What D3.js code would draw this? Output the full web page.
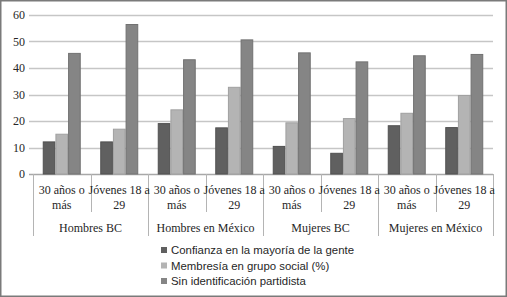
<!DOCTYPE html>
<html>
<head>
<meta charset="utf-8">
<script src="https://cdn.jsdelivr.net/npm/d3@7"></script>
<style>
  body { margin: 0; background: #fff; }
  svg { display: block; }
</style>
</head>
<body>
<svg id="chart" width="507" height="297"></svg>
<script>
// values
const groups = ["Hombres BC", "Hombres en México", "Mujeres BC", "Mujeres en México"];
const subLabels = [["30 años o", "más"], ["Jóvenes 18 a", "29"]];
const seriesNames = [
  "Confianza en la mayoría de la gente",
  "Membresía en grupo social (%)",
  "Sin identificación partidista"
];
const confianza = [12.3, 12.3, 19.2, 17.6, 10.6, 8.0, 18.4, 17.7];
const membresia = [15.2, 17.1, 24.4, 32.9, 19.5, 21.1, 23.1, 29.8];
const sinIdentificacion = [45.7, 56.6, 43.3, 50.8, 45.9, 42.5, 44.8, 45.3];
const yTicks = [0, 10, 20, 30, 40, 50, 60];

const colors = ["#606060", "#b4b4b4", "#858585"];
const strokes = ["#505050", "#a0a0a0", "#727272"];

const svg = d3.select("#chart");
const W = 507, H = 297;
const margin = { left: 33, right: 14, top: 15, bottom: 123 };
const serifFont = "'Liberation Serif', 'DejaVu Serif', serif";
const sansFont = "'Liberation Sans', Arial, sans-serif";
const textColor = "#262626";

// outer frame
svg.append("rect")
  .attr("x", 0.75).attr("y", 0.75)
  .attr("width", W - 1.5).attr("height", H - 1.5)
  .attr("fill", "#fff")
  .attr("stroke", "#7a7a7a")
  .attr("stroke-width", 1.5);

const cats = d3.range(groups.length * subLabels.length);
const data = cats.map(i => ({
  i,
  values: [confianza[i], membresia[i], sinIdentificacion[i]]
}));

const x0 = d3.scaleBand()
  .domain(cats)
  .range([margin.left, W - margin.right]);

const x1 = d3.scaleBand()
  .domain(d3.range(seriesNames.length))
  .range([0, x0.bandwidth()])
  .paddingInner(0)
  .paddingOuter(0.77);

const y = d3.scaleLinear()
  .domain([0, 60])
  .range([H - margin.bottom, margin.top]);

// gridlines
svg.append("g")
  .selectAll("line")
  .data(yTicks)
  .join("line")
    .attr("x1", margin.left - 4)
    .attr("x2", W - margin.right)
    .attr("y1", d => Math.round(y(d)) + 0.5)
    .attr("y2", d => Math.round(y(d)) + 0.5)
    .attr("stroke", d => d === 0 ? "#a8a8a8" : "#c6c6c6")
    .attr("stroke-width", 1.3);

// y tick labels
svg.append("g")
  .attr("font-family", serifFont)
  .attr("font-size", 12)
  .attr("fill", textColor)
  .attr("text-anchor", "end")
  .selectAll("text")
  .data(yTicks)
  .join("text")
    .attr("x", 25)
    .attr("y", d => y(d) + 4)
    .text(d => d);

// bars
const barGroup = svg.append("g")
  .selectAll("g")
  .data(data)
  .join("g")
    .attr("transform", d => `translate(${x0(d.i)},0)`);

barGroup.selectAll("rect")
  .data(d => d.values.map((v, s) => ({ v, s })))
  .join("rect")
    .attr("x", d => x1(d.s) + 0.5)
    .attr("width", x1.bandwidth() - 1)
    .attr("y", d => y(d.v) + 0.5)
    .attr("height", d => y(0) - y(d.v) - 0.5)
    .attr("fill", d => colors[d.s])
    .attr("stroke", d => strokes[d.s])
    .attr("stroke-width", 1);

// category separators
const y0 = Math.round(y(0));
const sep = svg.append("g").attr("stroke", "#b4b4b4").attr("stroke-width", 1);
d3.range(cats.length + 1).forEach(k => {
  const xp = Math.round(margin.left + k * x0.step()) + 0.5;
  const long = k % subLabels.length === 0;
  sep.append("line")
    .attr("x1", xp).attr("x2", xp)
    .attr("y1", y0).attr("y2", long ? 236 : 212);
});

// subcategory labels
const subText = svg.append("g")
  .attr("font-family", serifFont)
  .attr("font-size", 12)
  .attr("fill", textColor)
  .attr("text-anchor", "middle");

cats.forEach(i => {
  const lines = subLabels[i % subLabels.length];
  lines.forEach((t, li) => {
    subText.append("text")
      .attr("x", x0(i) + x0.bandwidth() / 2)
      .attr("y", 194 + li * 15)
      .text(t);
  });
});

// group labels
svg.append("g")
  .attr("font-family", serifFont)
  .attr("font-size", 12)
  .attr("fill", textColor)
  .attr("text-anchor", "middle")
  .selectAll("text")
  .data(groups)
  .join("text")
    .attr("x", (d, g) => margin.left + (g + 1) * x0.step() * subLabels.length - x0.step())
    .attr("y", 232)
    .text(d => d);

// legend
const legend = svg.append("g")
  .selectAll("g")
  .data(seriesNames)
  .join("g")
    .attr("transform", (d, s) => `translate(161,${250 + s * 15.5})`);

legend.append("rect")
  .attr("x", 0).attr("y", -3)
  .attr("width", 6).attr("height", 6)
  .attr("fill", (d, s) => colors[s]);

legend.append("text")
  .attr("x", 10)
  .attr("y", 4)
  .attr("font-family", sansFont)
  .attr("font-size", 11.4)
  .attr("fill", textColor)
  .text(d => d);
</script>
</body>
</html>
